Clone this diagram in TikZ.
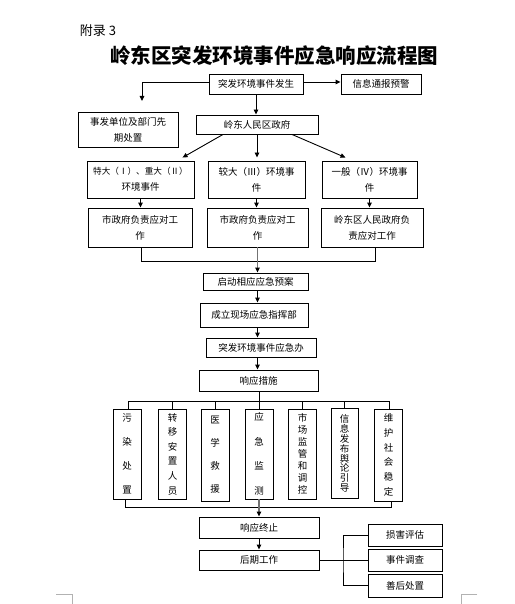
\documentclass[tikz,border=0pt]{standalone}
\usepackage{fontspec}
\setmainfont{Noto Sans CJK SC}
\usetikzlibrary{arrows.meta}
\begin{document}
\begin{tikzpicture}[x=1pt,y=-1pt,
  box/.style={draw,line width=0.9pt,inner sep=0pt,align=center,font=\fontsize{9.5}{16}\selectfont},
  arr/.style={line width=0.9pt,-{Triangle[length=5pt,width=4.5pt]}},
  garr/.style={line width=1.3pt,black!55,-{Triangle[length=5pt,width=4.5pt,color=black]}},
  ln/.style={line width=0.9pt},
  vcol/.style={box,minimum width=28pt,minimum height=90pt},
  pgcorner/.style={line width=0.8pt,black!30}
]
\fill[white] (0,0) rectangle (514,604);
\useasboundingbox (0,0) rectangle (514,604);

% titles
\node[font=\fontsize{13}{15}\selectfont] (app) at (98,31) {附录 3};
\node[font=\fontsize{20.5}{24}\selectfont\bfseries] (title) at (274,56) {岭东区突发环境事件应急响应流程图};

% top row
\node[box,minimum width=94pt,minimum height=20pt] (n1) at (256,84) {突发环境事件发生};
\node[box,minimum width=80pt,minimum height=20pt] (info) at (381,84) {信息通报预警};
\coordinate (c1) at (142,101);
\node[box,minimum width=100pt,minimum height=35pt] (pre) at (128,129.5) {事发单位及部门先\\期处置};
\node[box,minimum width=122pt,minimum height=19pt] (gov) at (257,124.5) {岭东人民区政府};

\draw[arr] ([yshift=2pt]n1.east) -- ([yshift=2pt]info.west);
\draw[arr] ([yshift=2pt]n1.west) -| (c1);
\draw[arr] (n1.south) -- (n1.south |- gov.north);

% level row
\node[box,minimum width=107pt,minimum height=37pt,font=\fontsize{8.6}{16}\selectfont] (A3) at (140.5,179.5) {特大（Ⅰ）、重大（Ⅱ）\\\fontsize{9.5}{16}\selectfont 环境事件};
\node[box,minimum width=97pt,minimum height=37pt] (B3) at (256.5,179.5) {较大（Ⅲ）环境事\\件};
\node[box,minimum width=95pt,minimum height=37pt] (C3) at (369.5,179.5) {一般（Ⅳ）环境事\\件};

\draw[arr] ([xshift=-34pt]gov.south) -- ([xshift=42pt,yshift=3pt]A3.north);
\draw[arr] (gov.south) -- ([yshift=3pt]gov.south |- B3.north);
\draw[arr] ([xshift=35pt]gov.south) -- ([xshift=-24pt,yshift=3pt]C3.north);

% responsibility row
\node[box,minimum width=104pt,minimum height=39pt] (A4) at (140,227.5) {市政府负责应对工\\作};
\node[box,minimum width=101pt,minimum height=39pt] (B4) at (257.5,227.5) {市政府负责应对工\\作};
\node[box,minimum width=102pt,minimum height=39pt] (C4) at (372,227.5) {岭东区人民政府负\\责应对工作};

\draw[arr] (A3.south) -- (A3.south |- A4.north);
\draw[arr] (B3.south) -- (B3.south |- B4.north);
\draw[arr] (C3.south) -- (C3.south |- C4.north);

% chain
\node[box,minimum width=105pt,minimum height=17pt] (start) at (255.5,281.5) {启动相应应急预案};
\node[box,minimum width=108pt,minimum height=24pt] (cmd) at (254,315) {成立现场应急指挥部};
\node[box,minimum width=110pt,minimum height=19pt] (office) at (261,347.5) {突发环境事件应急办};
\node[box,minimum width=119pt,minimum height=21pt] (resp) at (258.5,380.5) {响应措施};

\coordinate (m1) at (141,261);
\coordinate (m2) at (375,261);
\draw[ln] (A4.south -| m1) -- (m1) -- (m2) -- (C4.south -| m2);
\draw[garr] (B4.south) -- (B4.south |- start.north);
\draw[arr] (B4.south |- start.south) -- (B4.south |- cmd.north);
\draw[arr] (B4.south |- cmd.south) -- (B4.south |- office.north);
\draw[arr] (B4.south |- office.south) -- (B4.south |- resp.north);

% measures columns
\node[vcol,font=\fontsize{9.5}{24}\selectfont] (k1) at (127,454) {污\\染\\处\\置};
\node[vcol,font=\fontsize{9.5}{14.6}\selectfont] (k2) at (172.5,454) {转\\移\\安\\置\\人\\员};
\node[vcol,font=\fontsize{9.5}{23}\selectfont,minimum height=92pt] (k3) at (215,455) {医\\学\\救\\援};
\node[vcol,font=\fontsize{9.5}{24.5}\selectfont] (k4) at (259,454) {应\\急\\监\\测};
\node[vcol,font=\fontsize{9.5}{12}\selectfont] (k5) at (302.5,454) {市\\场\\监\\管\\和\\调\\控};
\node[vcol,font=\fontsize{9.5}{9.9}\selectfont,minimum width=27pt] (k6) at (344.5,453.5) {信\\息\\发\\布\\舆\\论\\引\\导};
\node[vcol,font=\fontsize{9.5}{14.8}\selectfont,minimum height=92pt] (k7) at (388.5,455) {维\\护\\社\\会\\稳\\定};

\coordinate (t1) at (128,401);
\coordinate (t7) at (389,401);
\draw[ln] (resp.south -| k4) -- (k4.north);
\draw[ln] (k1.north -| t1) -- (t1) -- (t7) -- (k7.north -| t7);
\draw[ln] (k2.north) -- (k2.north |- t1);
\draw[ln] (k3.north) -- (k3.north |- t1);
\draw[ln] (k5.north) -- (k5.north |- t1);
\draw[ln] (k6.north) -- (k6.north |- t1);

\coordinate (b1) at (125,507);
\coordinate (b7) at (391,507);
\draw[ln] (k1.south -| b1) -- (b1) -- (b7) -- (k7.south -| b7);

% end
\node[box,minimum width=120pt,minimum height=21pt] (endr) at (259,527.5) {响应终止};
\node[box,minimum width=120pt,minimum height=20pt] (post) at (259,560) {后期工作};
\draw[garr] (k4.south) -- (k4.south |- endr.north);
\draw[arr] (endr.south) -- (post.north);

\node[box,minimum width=74pt,minimum height=22pt] (d1) at (405,535) {损害评估};
\node[box,minimum width=74pt,minimum height=22pt] (d2) at (405,560) {事件调查};
\node[box,minimum width=74pt,minimum height=23pt] (d3) at (405,585.5) {善后处置};
\coordinate (jn) at (343,560);
\draw[ln] (post.east) -- (d2.west);
\draw[ln] (d1.west) -| (jn) |- (d3.west);

% page corner marks
\coordinate (pl) at (72,594);
\coordinate (pr) at (461,594);
\draw[pgcorner] (56,594) -- (pl) -- (72,604);
\draw[pgcorner] (477,594) -- (pr) -- (461,604);
\end{tikzpicture}
\end{document}
